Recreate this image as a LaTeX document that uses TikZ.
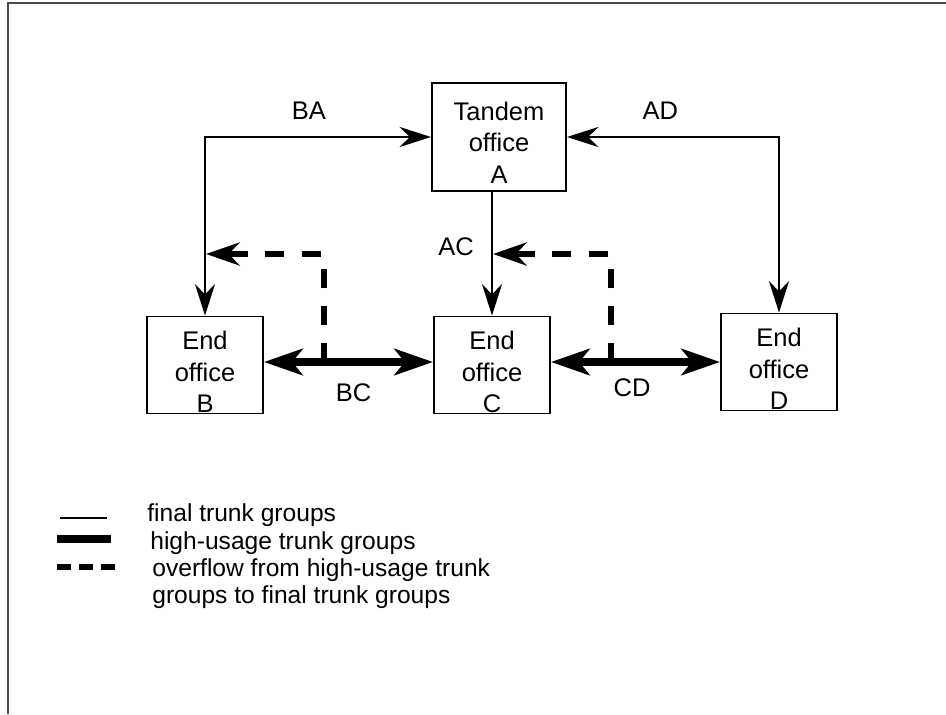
\documentclass[tikz,border=0pt]{standalone}
\usepackage{fontspec}
\setmainfont{Liberation Sans}
\usetikzlibrary{arrows.meta}
\begin{document}
\begin{tikzpicture}[x=0.02cm,y=-0.02cm,font=\fontsize{14.5}{18}\selectfont,
    office/.style={draw,line width=1.1pt,align=center,inner sep=0pt},
    fin/.style={line width=1.1pt,>={Stealth[length=18pt,width=11.5pt,inset=6pt]}},
    hu/.style={line width=4pt,>={Stealth[length=22pt,width=15pt,inset=6pt]}},
    ovf/.style={line width=3.4pt,dash pattern=on 11pt off 10pt,>={Stealth[length=19pt,width=13pt,inset=6pt]}},
    legtext/.style={anchor=west,inner sep=0pt,font=\fontsize{14}{15.5}\selectfont}]
    \useasboundingbox(0,0)rectangle(946,714);
    \draw[black!70,line width=1pt](8,714)--(8,3)--(946,3);
    % offices
    \node(A)[office,minimum width=2.68cm,minimum height=2.16cm]at(499,137){\rule{0pt}{17pt}Tandem\\office\\A};
    \node(B)[office,minimum width=2.32cm,minimum height=1.94cm]at(205,365){\rule{0pt}{18.5pt}End\\office\\B};
    \node(C)[office,minimum width=2.32cm,minimum height=1.94cm]at(492,365){\rule{0pt}{18.5pt}End\\office\\C};
    \node(D)[office,minimum width=2.32cm,minimum height=1.94cm]at(779,362){\rule{0pt}{18.5pt}End\\office\\D};
    % final trunk groups
    \draw[fin,<->](B.north)|-(A.west)node[pos=0.73,above=6pt]{BA};
    \draw[fin,<->](A.east)-|(D.north)node[pos=0.22,above=6pt]{AD};
    \draw[fin,->](A.south-|C.north)--(C.north)node[pos=0.44,left=6.5pt]{AC};
    % high-usage trunk groups
    \draw[hu,<->](B.east|-0,362)--(C.west|-0,362)node[pos=0.53,below=7pt]{BC};
    \draw[hu,<->](C.east|-0,362)--(D.west|-0,362)node[pos=0.48,below=4pt]{CD};
    % overflow
    \coordinate(o1)at(324,362);
    \coordinate(t1)at(206,254);
    \coordinate(o2)at(611,362);
    \coordinate(t2)at(493,254);
    \draw[ovf,->](o1)|-(t1);
    \draw[ovf,->](o2)|-(t2);
    % legend
    \draw[line width=1.1pt](60,518)--(107,518);
    \draw[line width=4pt](57,539)--(111,539);
    \draw[line width=3.4pt,dash pattern=on 8pt off 4.5pt](57,567)--(115,567);
    \node(l1)[legtext]at(147,515){final trunk groups};
    \node(l2)[legtext]at(150,543){high-usage trunk groups};
    \node(l3)[legtext,anchor=north west,align=left]at(152,558){overflow from high-usage trunk\\groups to final trunk groups};
\end{tikzpicture}
\end{document}
